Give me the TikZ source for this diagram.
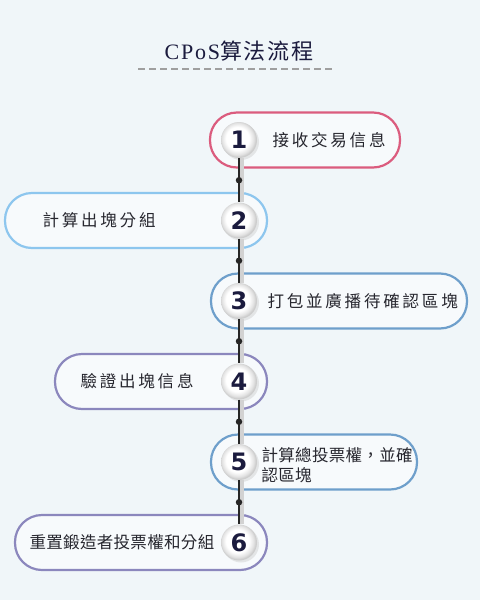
\documentclass[tikz,border=0pt]{standalone}
\usepackage{xcolor}
\usepackage{fontspec}
\usepackage{tikz}
\usetikzlibrary{math,shadows}
\setmainfont{Liberation Serif}
\newfontfamily\cjk[LetterSpace=17]{Noto Sans CJK TC}
\newfontfamily\cjknarrow[LetterSpace=2]{Noto Sans CJK TC}
\newfontfamily\cjktitle[LetterSpace=8]{Noto Sans CJK SC}
\newfontfamily\latintitle[LetterSpace=8]{Liberation Serif}
\newfontfamily\numfont{DejaVu Sans}

\definecolor{bgc}{HTML}{F0F6F9}
\definecolor{ink}{HTML}{1B1B3E}
\definecolor{txtc}{HTML}{26262E}
\definecolor{pinkc}{HTML}{DB5C7E}
\definecolor{skyc}{HTML}{8DC6EE}
\definecolor{steelc}{HTML}{6E9FCB}
\definecolor{lilac}{HTML}{8B87BD}

\pgfdeclareradialshading{numshade}{\pgfpoint{-3bp}{3bp}}{%
  color(0bp)=(white); color(16bp)=(white); color(22bp)=(gray!22);
  color(25bp)=(gray!40); color(50bp)=(gray!40)}

\tikzset{
  pill/.style={draw=#1, line width=2.2pt, rounded corners=27pt,
    fill=white!45!bgc, minimum height=55pt, inner sep=0pt},
  numball/.style={circle, minimum size=36pt, inner sep=0pt, shading=numshade,
    font=\numfont\bfseries\fontsize{24}{24}\selectfont, text=ink,
    drop shadow={shadow xshift=2pt, shadow yshift=-2pt, fill=gray!45, opacity=0.4}},
  steptext/.style={anchor=west, text=txtc, font=\cjk\fontsize{16.5}{20}\selectfont},
  steptextnarrow/.style={anchor=west, text=txtc, align=left,
    font=\cjknarrow\fontsize{16.5}{20}\selectfont},
  link/.style={line width=1.3pt, black!85},
  linkshade/.style={line width=4pt, gray!35},
  joint/.style={circle, fill=black!85, minimum size=6.5pt, inner sep=0pt}
}

\begin{document}
\begin{tikzpicture}[x=1pt,y=-1pt]
\fill[bgc] (0,0) rectangle (480,600);
\useasboundingbox (0,0) rectangle (480,600);
\tikzmath{
	\cx = 239;
	\ya = 140;\yb = 220.5;\yc = 301;\yd = 381.5;\ye = 462;\yf = 542.5;
	% title
	{\node[text=ink, font=\fontsize{22}{24}\selectfont] (title) at (239,51) {{\latintitle CPoS}{\cjktitle 算法流程}};};
	{\coordinate (ul) at (138,69);};
	{\coordinate (ur) at (332,69);};
	{\draw[gray!75, line width=1.1pt, dash pattern=on 7pt off 4pt] (ul) -- (ur);};
	% boxes
	{\node[pill=pinkc, minimum width=190pt] (boxa) at (305,\ya) {};};
	{\node[pill=skyc, minimum width=262pt] (boxb) at (136,\yb) {};};
	{\node[pill=steelc, minimum width=256pt] (boxc) at (339,\yc) {};};
	{\node[pill=lilac, minimum width=212pt] (boxd) at (161,\yd) {};};
	{\node[pill=steelc, minimum width=206pt] (boxe) at (314,\ye) {};};
	{\node[pill=lilac, minimum width=252pt] (boxf) at (141,\yf) {};};
	% texts
	{\node[steptext] (ta) at (269,\ya) {接收交易信息};};
	{\node[steptext] (tb) at (39,\yb) {計算出塊分組};};
	{\node[steptext] (tc) at (264,\yc) {打包並廣播待確認區塊};};
	{\node[steptext] (td) at (77,\yd) {驗證出塊信息};};
	{\node[steptextnarrow] (te) at (258,\ye+3) {計算總投票權，並確\\認區塊};};
	{\node[steptextnarrow] (tf) at (26,\yf) {重置鍛造者投票權和分組};};
	% numbers
	{\node[numball] (na) at (\cx,\ya) {1};};
	{\node[numball] (nb) at (\cx,\yb) {2};};
	{\node[numball] (nc) at (\cx,\yc) {3};};
	{\node[numball] (nd) at (\cx,\yd) {4};};
	{\node[numball] (ne) at (\cx,\ye) {5};};
	{\node[numball] (nf) at (\cx,\yf) {6};};
	% spine
	{\draw[linkshade] ([xshift=3pt]na.south) -- ([xshift=3pt]nb.north);};
	{\draw[linkshade] ([xshift=3pt]nb.south) -- ([xshift=3pt]nc.north);};
	{\draw[linkshade] ([xshift=3pt]nc.south) -- ([xshift=3pt]nd.north);};
	{\draw[linkshade] ([xshift=3pt]nd.south) -- ([xshift=3pt]ne.north);};
	{\draw[linkshade] ([xshift=3pt]ne.south) -- ([xshift=3pt]nf.north);};
	{\draw[link] (na.south) -- node[joint] (ja) {} (nb.north);};
	{\draw[link] (nb.south) -- node[joint] (jb) {} (nc.north);};
	{\draw[link] (nc.south) -- node[joint] (jc) {} (nd.north);};
	{\draw[link] (nd.south) -- node[joint] (jd) {} (ne.north);};
	{\draw[link] (ne.south) -- node[joint] (je) {} (nf.north);};
};
\end{tikzpicture}
\end{document}
